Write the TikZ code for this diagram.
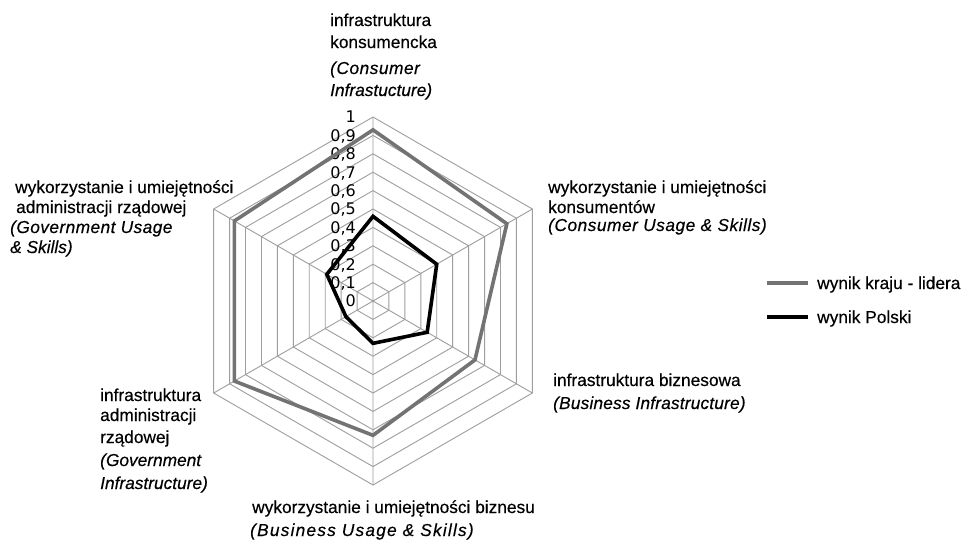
\documentclass[tikz,border=0pt]{standalone}
\usepackage{fontspec}
\setmainfont{Liberation Sans}[FakeBold=0.3]
\newfontfamily\tickfont{DejaVu Sans}
\usetikzlibrary{calc}
\newcommand{\ls}[1]{\addfontfeature{LetterSpace=#1}}
\begin{document}
\begin{tikzpicture}[x=1pt,y=-1pt,
  lbl/.style={font=\fontsize{17.3}{21.5}\selectfont\addfontfeature{FakeBold=0.3}, inner sep=0pt, anchor=base west},
  ilbl/.style={lbl, font=\fontsize{17.3}{21.5}\selectfont\itshape\addfontfeature{FakeBold=0.3}},
  ticklbl/.style={font=\tickfont\fontsize{16}{16}\selectfont, inner sep=0pt, anchor=base east},
  gridline/.style={draw=black!38, line width=0.9pt},
  leaderline/.style={draw=black!55, line width=3.6pt, line join=miter},
  polline/.style={draw=black, line width=3.6pt, line join=miter}]
\useasboundingbox[fill=white] (0,0) rectangle (963,544);
\coordinate (C) at (373,301);
% grid hexagons
\foreach \k in {1,...,10} {
  \draw[gridline, shift={(C)}] (270:{18.4*\k}) -- (330:{18.4*\k}) -- (30:{18.4*\k}) -- (90:{18.4*\k}) -- (150:{18.4*\k}) -- (210:{18.4*\k}) -- cycle;
}
% spokes
\foreach \a [count=\i] in {270,330,30,90,150,210} {
  \coordinate (V\i) at ($(C)+(\a:184)$);
}
\draw[gridline] (C) -- (V1) (C) -- (V2) (C) -- (V3) (C) -- (V4) (C) -- (V5) (C) -- (V6);
% tick labels
\foreach \k/\t in {0/0,1/{0,1},2/{0,2},3/{0,3},4/{0,4},5/{0,5},6/{0,6},7/{0,7},8/{0,8},9/{0,9},10/1} {
  \node[ticklbl] (t\k) at (356,{301-18.4*\k+5.8}) {\t};
}
% leader series
\draw[leaderline, shift={(C)}] (270:{184*0.93}) -- (330:{184*0.84}) -- (30:{184*0.64}) -- (90:{184*0.73}) -- (150:{184*0.87}) -- (210:{184*0.87}) -- cycle;
% Poland series
\draw[polline, shift={(C)}] (270:{184*0.46}) -- (330:{184*0.40}) -- (30:{184*0.34}) -- (90:{184*0.23}) -- (150:{184*0.17}) -- (210:{184*0.29}) -- cycle;
% axis labels: top
\node[lbl] (top1) at (330,26) {infrastruktura};
\node[lbl] (top2) at (330,48) {konsumencka};
\node[ilbl] (top3) at (330,74) {\ls{3}(Consumer};
\node[ilbl] (top4) at (330,96) {Infrastucture)};
% upper left
\node[lbl] (ul1) at (15,193) {wykorzystanie i umiejętności};
\node[lbl] (ul2) at (16,213) {administracji rządowej};
\node[ilbl] (ul3) at (10,233) {\ls{2.5}(Government Usage};
\node[ilbl] (ul4) at (10,253) {\& Skills)};
% upper right
\node[lbl] (ur1) at (548,193) {wykorzystanie i umiejętności};
\node[lbl] (ur2) at (548,213) {konsumentów};
\node[ilbl] (ur3) at (548,231) {\ls{3}(Consumer Usage \& Skills)};
% lower right
\node[lbl] (lr1) at (553,386) {infrastruktura biznesowa};
\node[ilbl] (lr2) at (553,409) {\ls{1}(Business Infrastructure)};
% bottom
\node[lbl] (b1) at (252,513) {wykorzystanie i umiejętności biznesu};
\node[ilbl] (b2) at (250,536) {\ls{7}(Business Usage \& Skills)};
% lower left
\node[lbl] (ll1) at (100,401) {infrastruktura};
\node[lbl] (ll2) at (100,421) {administracji};
\node[lbl] (ll3) at (100,443) {rządowej};
\node[ilbl] (ll4) at (100,466) {(Government};
\node[ilbl] (ll5) at (100,489) {Infrastructure)};
% legend
\coordinate (la1) at (767,283); \coordinate (lb1) at (808,283);
\coordinate (la2) at (767,317); \coordinate (lb2) at (808,317);
\draw[leaderline, line width=3.4pt] (la1) -- (lb1);
\draw[polline, line width=3.4pt] (la2) -- (lb2);
\node[lbl] (leg1) at (817,289) {wynik kraju - lidera};
\node[lbl] (leg2) at (817,323) {wynik Polski};
\end{tikzpicture}
\end{document}
